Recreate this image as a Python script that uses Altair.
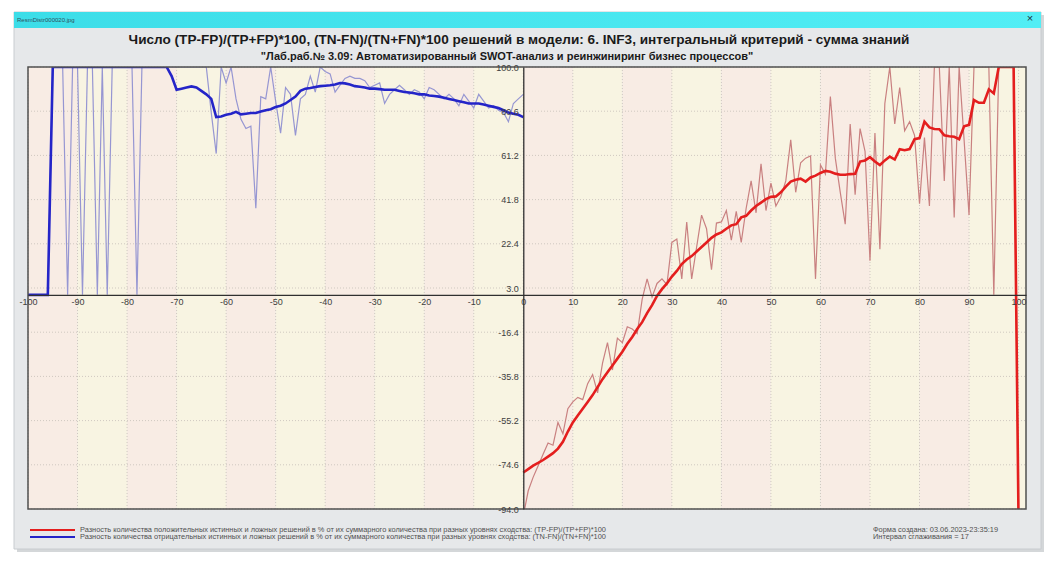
import altair as alt
import pandas as pd

# ---------------- data ----------------
blue_x = list(range(-100, 1))
blue_raw = [0, 0, 0, 0, 0,
            100, 100, 100, 0, 100, 100, 0, 100, 100, 0, 100, 0, 100, 100, 100, 100, 100, 0, 100,
            100, 100, 100, 100, 100, 100, 100, 100, 100, 100, 100, 100, 100,
            80, 62, 100, 93, 100, 86, 77, 73, 74, 38, 87, 86, 100, 85, 71, 91, 88, 70, 86, 88,
            96, 89, 100, 98, 97, 89, 92, 95, 96, 95, 95, 94, 91, 92, 93, 84, 88, 90, 92, 90,
            88, 90, 89, 86, 91, 90, 88, 86, 88, 86, 83, 88, 85, 82, 88, 85, 82, 83, 81, 80,
            76, 84, 86, 88]
blue_smooth = [0, 0, 0, 0, 0] + [100] * 24 + [
    96, 90, 90.5, 91, 91.5, 91, 89.5, 88, 86, 78, 78.3, 79, 79.5, 80.3, 79.2, 79.5, 79.8,
    79.8, 80.5, 81, 81.5, 82.4, 83, 84, 85.5, 87, 89.5, 90.5, 90.8, 91.2, 91.6, 91.8, 92,
    92.3, 93, 92.8, 92.3, 91.6, 91.3, 91, 90.5, 90.5, 90.3, 90, 90, 90, 89.5, 89, 88.8,
    88.5, 88, 88, 87.5, 87.3, 87, 86.5, 86, 85.5, 85, 84.5, 84, 84, 84, 83.5, 83, 82.5,
    82, 81, 80, 79.5, 79, 78]

red_x = list(range(0, 101))
red_raw = [-97, -86, -80, -75, -70, -65, -66, -56, -61, -50, -47, -45, -46, -39, -35, -43,
           -30, -21, -33, -19, -21, -14, -15, -17, -2, 7, -1, 5, 7, 4.5, 23, 24.5, 7, 32, 7,
           21, 35, 29, 11, 31.5, 32, 37, 24, 36.6, 23, 38, 50, 36, 57.5, 37, 49, 39, 43, 50,
           68, 45, 58, 60, 61, 7, 57, 53, 87, 60, 45, 31, 75, 44, 73, 63, 15, 71, 20, 84, 100,
           75, 91, 72, 76, 70, 40, 69, 39, 100, 100, 50, 100, 34, 100, 68, 35, 100, 100, 100,
           100, 0, 100, 100, 100, 100, -100]
red_smooth = [-78, -76.5, -75, -73.8, -72.5, -71, -69.5, -67.5, -64.5, -60, -56, -53, -50,
              -47, -44, -40.5, -37, -34, -31, -28, -25, -21.5, -18.5, -15, -12, -8, -4.5,
              -0.5, 2.5, 5, 8, 10.5, 13.5, 15.5, 17, 19, 21, 23, 25, 26.5, 27.4, 29, 30.5, 31,
              34, 34.7, 37, 39, 40.5, 42, 43, 43.2, 45, 47.5, 49.7, 50.5, 51, 49.7, 51.5, 52.3,
              53.5, 54.4, 54, 53.2, 52.7, 52.7, 53, 53.1, 58.5, 59, 60.4, 58.5, 57, 59, 60.7,
              59.4, 63.9, 63.5, 64, 68.3, 68.8, 76, 73.5, 72.8, 72.7, 70, 69.6, 69.4, 68.3, 74,
              74.6, 85.5, 84.3, 84.3, 90.2, 88.4, 100, 100, 100, 100, -100]

x_ticks = list(range(-100, 101, 10))
y_ticks = [100.0, 80.6, 61.2, 41.8, 22.4, 3.0, -16.4, -35.8, -55.2, -74.6, -94.0]
stripe_start = list(range(-100, 100, 10))
stripe_kind = ["pink" if (s // 10) % 2 == 0 else "yellow" for s in stripe_start]

title_text = ("Число (TP-FP)/(TP+FP)*100, (TN-FN)/(TN+FN)*100 решений в модели: 6. INF3, "
              "интегральный критерий - сумма знаний")
subtitle_text = ("\"Лаб.раб.№ 3.09: Автоматизированный SWOT-анализ и реинжиниринг "
                 "бизнес процессов\"")
legend_red = ("Разность количества положительных истинных и ложных решений в % от их "
              "суммарного количества при разных уровнях сходства: (TP-FP)/(TP+FP)*100")
legend_blue = ("Разность количества отрицательных истинных и ложных решений в % от их "
               "суммарного количества при разных уровнях сходства: (TN-FN)/(TN+FN)*100")
info1 = "Форма создана: 03.06.2023-23:35:19"
info2 = "Интервал сглаживания = 17"
file_name = "ResmDistr000020.jpg"

# ---------------- layout ----------------
W, H = 998, 442
PL, PT = 28, 67
FONT = "Liberation Sans"

XDOM = [-100, 101.5]
YDOM = [-94, 100]

x_axis = alt.Axis(values=x_ticks, format="d", grid=False, ticks=False, offset=-(H * 94 / 194),
                  labelExpr="replace(datum.label, '\u2212', '-')",
                  labelFontSize=9, labelColor="#404040", labelFont=FONT, labelFlush=False,
                  labelOverlap=False, labelPadding=3, domainColor="#303030", domainWidth=1.3,
                  zindex=2, title=None)
y_axis = alt.Axis(values=y_ticks, format=".1f", grid=False, ticks=False, offset=-(W * 100 / 201.5),
                  labelExpr="replace(datum.label, '\u2212', '-')",
                  labelFontSize=9, labelColor="#404040", labelFont=FONT, labelFlush=False,
                  labelOverlap=False, labelPadding=5, labelBound=False, domainColor="#303030",
                  domainWidth=1.3, zindex=2, title=None)

def X(field, axis=True):
    return alt.X(field, type="quantitative", scale=alt.Scale(domain=XDOM, nice=False, zero=False),
                 axis=x_axis if axis else None, title=None)

def Y(field, axis=True):
    return alt.Y(field, type="quantitative", scale=alt.Scale(domain=YDOM, nice=False, zero=False),
                 axis=y_axis if axis else None, title=None)

one = pd.DataFrame({"k": [0]})

# window decorations (pixel positions relative to plot area)
shadow = alt.Chart(one).mark_rect(color="#b8bcc0", opacity=0.6).encode(
    x=alt.value(14 - PL + 3), x2=alt.value(1041 - PL + 3), y=alt.value(12 - PT + 3), y2=alt.value(549 - PT + 3))
body = alt.Chart(one).mark_rect(color="#e6e8ea", stroke="#c8ccd0").encode(
    x=alt.value(14 - PL), x2=alt.value(1041 - PL), y=alt.value(12 - PT), y2=alt.value(549 - PT))
titlebar = alt.Chart(one).mark_rect(
    color=alt.Gradient(gradient="linear", stops=[alt.GradientStop(color="#3cdde8", offset=0),
                                                 alt.GradientStop(color="#52eef5", offset=1)],
                       x1=0, x2=1, y1=0, y2=0)).encode(
    x=alt.value(14 - PL), x2=alt.value(1041 - PL), y=alt.value(12 - PT), y2=alt.value(28 - PT))
bar_text = alt.Chart(one).mark_text(text=file_name, align="left", baseline="middle", fontSize=6,
                                    font=FONT, color="#305060").encode(
    x=alt.value(17 - PL), y=alt.value(20 - PT))
close_x = alt.Chart(one).mark_text(text="×", align="center", baseline="middle", fontSize=11,
                                   font=FONT, color="#203040").encode(
    x=alt.value(1030 - PL), y=alt.value(19 - PT))

# stripes
stripes_df = pd.DataFrame({"s": stripe_start, "e": [s + 10 for s in stripe_start], "kind": stripe_kind})
stripes = alt.Chart(stripes_df).mark_rect(clip=True).encode(
    x=X("s"), x2="e", y=alt.value(0), y2=alt.value(H),
    color=alt.Color("kind:N", scale=alt.Scale(domain=["pink", "yellow"], range=["#f8ece4", "#f8f4e2"]),
                    legend=None))
edge_fill = alt.Chart(one).mark_rect(color="#f8f4e2").encode(
    x=alt.value(W * 200 / 201.5), x2=alt.value(W), y=alt.value(0), y2=alt.value(H))

# grid
vgrid = alt.Chart(pd.DataFrame({"gx": x_ticks})).mark_rule(
    color="#cfc8c0", strokeDash=[1, 2], strokeWidth=1).encode(x=X("gx"), y=alt.value(0), y2=alt.value(H))
hgrid = alt.Chart(pd.DataFrame({"gy": y_ticks})).mark_rule(
    color="#cfc8c0", strokeDash=[1, 2], strokeWidth=1).encode(y=Y("gy"), x=alt.value(0), x2=alt.value(W))

blue_df = pd.DataFrame({"x": blue_x, "raw": blue_raw, "sm": blue_smooth})
red_df = pd.DataFrame({"x": red_x, "raw": red_raw, "sm": red_smooth})

blue_raw_l = alt.Chart(blue_df).mark_line(clip=True, color="#9696d2", strokeWidth=1.2).encode(
    x=X("x"), y=Y("raw"))
red_raw_l = alt.Chart(red_df).mark_line(clip=True, color="#c98080", strokeWidth=1.2).encode(
    x=X("x"), y=Y("raw"))
blue_sm_l = alt.Chart(blue_df).mark_line(clip=True, color="#2424c8", strokeWidth=2.6).encode(
    x=X("x"), y=Y("sm"))
red_sm_l = alt.Chart(red_df).mark_line(clip=True, color="#e41e1e", strokeWidth=2.6).encode(
    x=X("x"), y=Y("sm"))

border = alt.Chart(one).mark_rect(fill=None, stroke="#505050", strokeWidth=1.5).encode(
    x=alt.value(0), x2=alt.value(W), y=alt.value(0), y2=alt.value(H))

# titles
title = alt.Chart(one).mark_text(text=title_text, align="center", baseline="middle", fontSize=13.6,
                                 fontWeight="bold", font=FONT, color="#1a1a1a").encode(
    x=alt.value(519 - PL), y=alt.value(40 - PT))
subtitle = alt.Chart(one).mark_text(text=subtitle_text, align="center", baseline="middle", fontSize=11,
                                    fontWeight="bold", font=FONT, color="#1a1a1a").encode(
    x=alt.value(507 - PL), y=alt.value(57 - PT))

# legend
LFS = 7.4
leg_red_line = alt.Chart(one).mark_rule(color="#e41e1e", strokeWidth=2).encode(
    x=alt.value(30 - PL), x2=alt.value(75 - PL), y=alt.value(530 - PT))
leg_blue_line = alt.Chart(one).mark_rule(color="#2424c8", strokeWidth=2).encode(
    x=alt.value(30 - PL), x2=alt.value(75 - PL), y=alt.value(537 - PT))
leg_red_t = alt.Chart(one).mark_text(text=legend_red, align="left", baseline="middle", fontSize=LFS,
                                     font=FONT, color="#505050").encode(
    x=alt.value(80 - PL), y=alt.value(530 - PT))
leg_blue_t = alt.Chart(one).mark_text(text=legend_blue, align="left", baseline="middle", fontSize=LFS,
                                      font=FONT, color="#505050").encode(
    x=alt.value(80 - PL), y=alt.value(537 - PT))
info1_t = alt.Chart(one).mark_text(text=info1, align="left", baseline="middle", fontSize=LFS,
                                   font=FONT, color="#505050").encode(
    x=alt.value(873 - PL), y=alt.value(530 - PT))
info2_t = alt.Chart(one).mark_text(text=info2, align="left", baseline="middle", fontSize=LFS,
                                   font=FONT, color="#505050").encode(
    x=alt.value(873 - PL), y=alt.value(537 - PT))

chart = alt.layer(
    shadow, body, titlebar, bar_text, close_x,
    stripes, edge_fill, vgrid, hgrid,
    blue_raw_l, red_raw_l, blue_sm_l, red_sm_l, border,
    title, subtitle, leg_red_line, leg_blue_line, leg_red_t, leg_blue_t, info1_t, info2_t,
).properties(
    width=W, height=H,
    padding={"left": PL, "top": PT, "right": 1051 - PL - W, "bottom": 563 - PT - H},
    autosize=alt.AutoSizeParams(type="none"),
    background="#ffffff",
).configure_view(stroke=None)

chart.save("out.html", embed_options={"renderer": "svg", "actions": False})
